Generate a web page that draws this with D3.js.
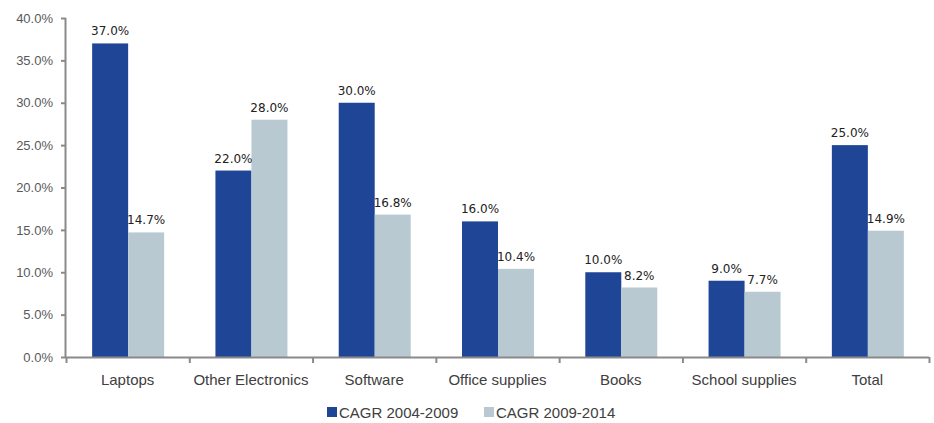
<!DOCTYPE html>
<html>
<head>
<meta charset="utf-8">
<script src="https://cdn.jsdelivr.net/npm/d3@7"></script>
<style>
  html, body { margin: 0; padding: 0; background: #fff; }
  svg { display: block; }
</style>
</head>
<body>
<svg id="chart" width="934" height="423"></svg>
<script>
// Product categories and growth rates (%)
const categories = ["Laptops", "Other Electronics", "Software", "Office supplies", "Books", "School supplies", "Total"];
const cagr2004_2009 = [37.0, 22.0, 30.0, 16.0, 10.0, 9.0, 25.0];
const cagr2009_2014 = [14.7, 28.0, 16.8, 10.4, 8.2, 7.7, 14.9];
const seriesNames = ["CAGR 2004-2009", "CAGR 2009-2014"];
const yTicks = [0, 5, 10, 15, 20, 25, 30, 35, 40];

const colors = ["#1f4597", "#b9c9d2"];
const axisColor = "#8a8a8a";

const svg = d3.select("#chart");
const margin = { left: 66, top: 18 };
const plotW = 929 - margin.left;
const plotH = 357 - margin.top;
const pairW = 72;

const g = svg.append("g").attr("transform", `translate(${margin.left},${margin.top})`);

const x = d3.scaleBand().domain(categories).range([0, plotW]).paddingInner(0).paddingOuter(0);
const inner = d3.scaleBand().domain([0, 1]).range([0, pairW]);
const y = d3.scaleLinear().domain([0, 40]).range([plotH, 0]);

// Y axis
const yAxis = g.append("g")
  .call(d3.axisLeft(y).tickValues(yTicks).tickSize(5).tickPadding(8).tickFormat(d => d.toFixed(1) + "%"));
yAxis.select(".domain").attr("stroke", axisColor).attr("stroke-width", 2).attr("d", `M-0.5,0V${plotH}`);
yAxis.selectAll(".tick line").attr("stroke", axisColor).attr("stroke-width", 2);
yAxis.selectAll(".tick text")
  .attr("fill", "#595959")
  .style("font-family", "'Liberation Sans', Arial, sans-serif")
  .style("font-size", "13px");

// Bars, two per category
const rows = categories.map((c, i) => ({ cat: c, vals: [cagr2004_2009[i], cagr2009_2014[i]] }));
const groups = g.selectAll(".cat").data(rows).join("g")
  .attr("class", "cat")
  .attr("transform", d => `translate(${x(d.cat) + (x.bandwidth() - pairW) / 2 + 0.5},0)`);

groups.selectAll("rect").data(d => d.vals.map((v, k) => ({ v, k }))).join("rect")
  .attr("x", d => inner(d.k))
  .attr("width", inner.bandwidth())
  .attr("y", d => y(d.v))
  .attr("height", d => plotH - y(d.v))
  .attr("fill", d => colors[d.k]);

groups.selectAll("text.val").data(d => d.vals.map((v, k) => ({ v, k }))).join("text")
  .attr("class", "val")
  .attr("x", d => inner(d.k) + inner.bandwidth() / 2)
  .attr("y", d => y(d.v) - 8)
  .attr("text-anchor", "middle")
  .attr("fill", "#222")
  .style("font-family", "'DejaVu Sans', Verdana, sans-serif")
  .style("font-size", "12px")
  .text(d => d.v.toFixed(1) + "%");

// X axis with boundary ticks between categories
const xb = d3.scaleLinear().domain([0, categories.length]).range([0, plotW]);
const xAxis = g.append("g").attr("transform", `translate(0,${plotH})`)
  .call(d3.axisBottom(xb).tickValues(d3.range(categories.length + 1)).tickSize(6).tickFormat(""));
xAxis.select(".domain").attr("stroke", axisColor).attr("stroke-width", 2).attr("d", `M0,0.5H${plotW}`);
xAxis.selectAll(".tick line").attr("stroke", axisColor).attr("stroke-width", 2);

g.append("g").selectAll("text").data(categories).join("text")
  .attr("x", d => x(d) + x.bandwidth() / 2)
  .attr("y", plotH + 28)
  .attr("text-anchor", "middle")
  .attr("fill", "#404040")
  .style("font-family", "'Liberation Sans', Arial, sans-serif")
  .style("font-size", "15px")
  .text(d => d);

// Legend
const legend = svg.append("g").attr("transform", "translate(327,413)");
const legendX = [0, 157];
seriesNames.forEach((name, k) => {
  const item = legend.append("g").attr("transform", `translate(${legendX[k]},0)`);
  item.append("rect").attr("x", 0).attr("y", -6).attr("width", 10).attr("height", 10).attr("fill", colors[k]);
  item.append("text").attr("x", 12).attr("y", 5)
    .attr("fill", "#404040")
    .style("font-family", "'Liberation Sans', Arial, sans-serif")
    .style("font-size", "15px")
    .text(name);
});
</script>
</body>
</html>
